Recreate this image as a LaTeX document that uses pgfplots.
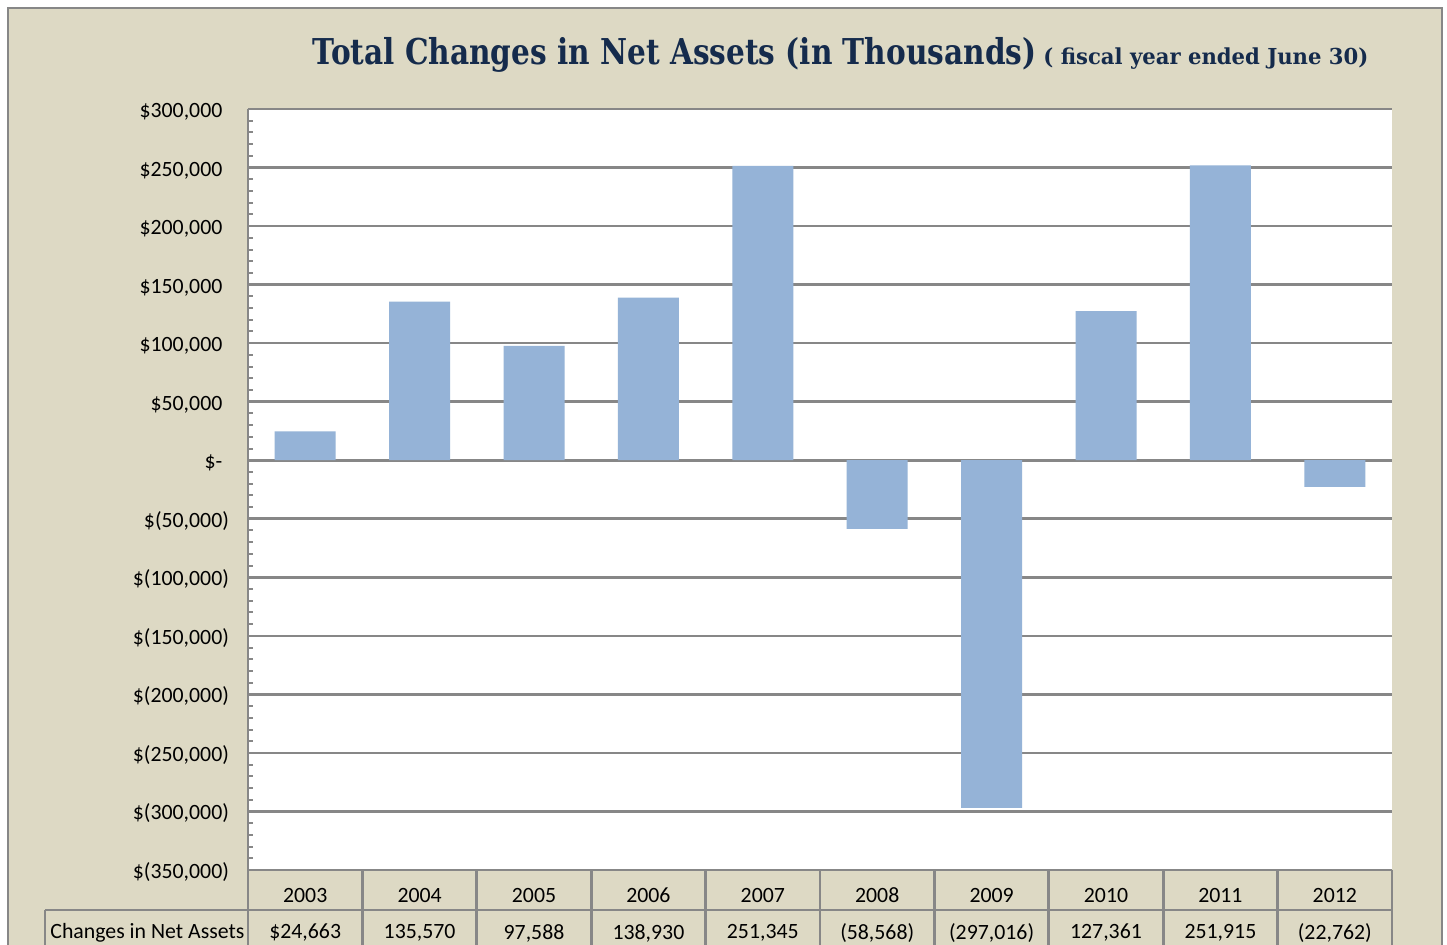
\documentclass[border=0pt]{standalone}
\usepackage{pgfplots}
\pgfplotsset{compat=1.18}
\usepackage{fontspec}
\setmainfont{Carlito}
\newfontfamily\titlefont{DejaVu Serif}
\definecolor{bg}{HTML}{DDD9C4}
\definecolor{barc}{HTML}{95B3D7}
\definecolor{gl}{HTML}{878787}
\definecolor{navy}{HTML}{152B4C}
\begin{document}
\begin{tikzpicture}[x=0.5pt,y=0.5pt]
\clip (0,0) rectangle (1447,944);
\fill[white] (0,0) rectangle (1447,944);
\fill[bg] (8,-20) rectangle (1442,936);
\draw[gl, line width=1.3pt] (8,-20) -- (8,936) -- (1442,936) -- (1442,-20);
\begin{axis}[
  at={(124pt,37pt)}, anchor=south west,
  scale only axis, width=572pt, height=380.5pt,
  xmin=-0.5, xmax=9.5, ymin=-350000, ymax=300000,
  axis background/.style={fill=white},
  axis y line*=left, axis x line*=bottom,
  axis line style={gl, line width=1.4pt, -},
  xtick=\empty,
  ytick={-350000,-300000,...,300000},
  yticklabels={{\$(350,000)},{\$(300,000)},{\$(250,000)},{\$(200,000)},{\$(150,000)},{\$(100,000)},{\$(50,000)},{\$-\phantom{)}},{\$50,000\phantom{)}},{\$100,000\phantom{)}},{\$150,000\phantom{)}},{\$200,000\phantom{)}},{\$250,000\phantom{)}},{\$300,000\phantom{)}}},
  yticklabel style={font=\fontsize{10.9}{12}\selectfont, anchor=east, xshift=-6pt, yshift=-1pt},
  minor y tick num=4,
  tick align=inside,
  major tick length=0pt, minor tick length=2.5pt,
  tick style={gl, line width=1pt},
  ymajorgrids, major grid style={gl, line width=1.3pt},
  scaled y ticks=false,
]
\addplot[ybar, bar width=30.5pt, fill=barc, draw=none] coordinates {
 (0,24663) (1,135570) (2,97588) (3,138930) (4,251345)
 (5,-58568) (6,-297016) (7,127361) (8,251915) (9,-22762)};
\end{axis}
% data table
\draw[gl, line width=1.4pt] (45,34) -- (1392,34);
\draw[gl, line width=1.4pt] (45,34) -- (45,-20);
\foreach \xx in {248,362.4,476.8,591.2,705.6,820,934.4,1048.8,1163.2,1277.6,1392}
  \draw[gl, line width=1.4pt] (\xx,74) -- (\xx,-20);
\foreach \yr [count=\i from 0] in {2003,2004,2005,2006,2007,2008,2009,2010,2011,2012}
  \node[font=\fontsize{10.9}{12}\selectfont] at ({248+114.4*(\i+0.5)},49) {\yr};
\foreach \v [count=\i from 0] in {\$24{,}663,135{,}570,97{,}588,138{,}930,251{,}345,(58{,}568),(297{,}016),127{,}361,251{,}915,(22{,}762)}
  \node[font=\fontsize{10.9}{12}\selectfont] at ({248+114.4*(\i+0.5)},11) {\v};
\node[font=\fontsize{10.9}{12}\selectfont, anchor=west, inner sep=0] at (50,11) {Changes in Net Assets};
% title
\node[anchor=base west, inner sep=0, text=navy] at (312,879) {\resizebox{362pt}{\height}{\fontsize{17.8}{22}\titlefont\bfseries Total Changes in Net Assets (in Thousands)}};
\node[anchor=base west, inner sep=0, text=navy] at (1043,879) {\resizebox{162.5pt}{\height}{\fontsize{11}{13}\titlefont\bfseries ( fiscal year ended June 30)}};
\end{tikzpicture}
\end{document}
